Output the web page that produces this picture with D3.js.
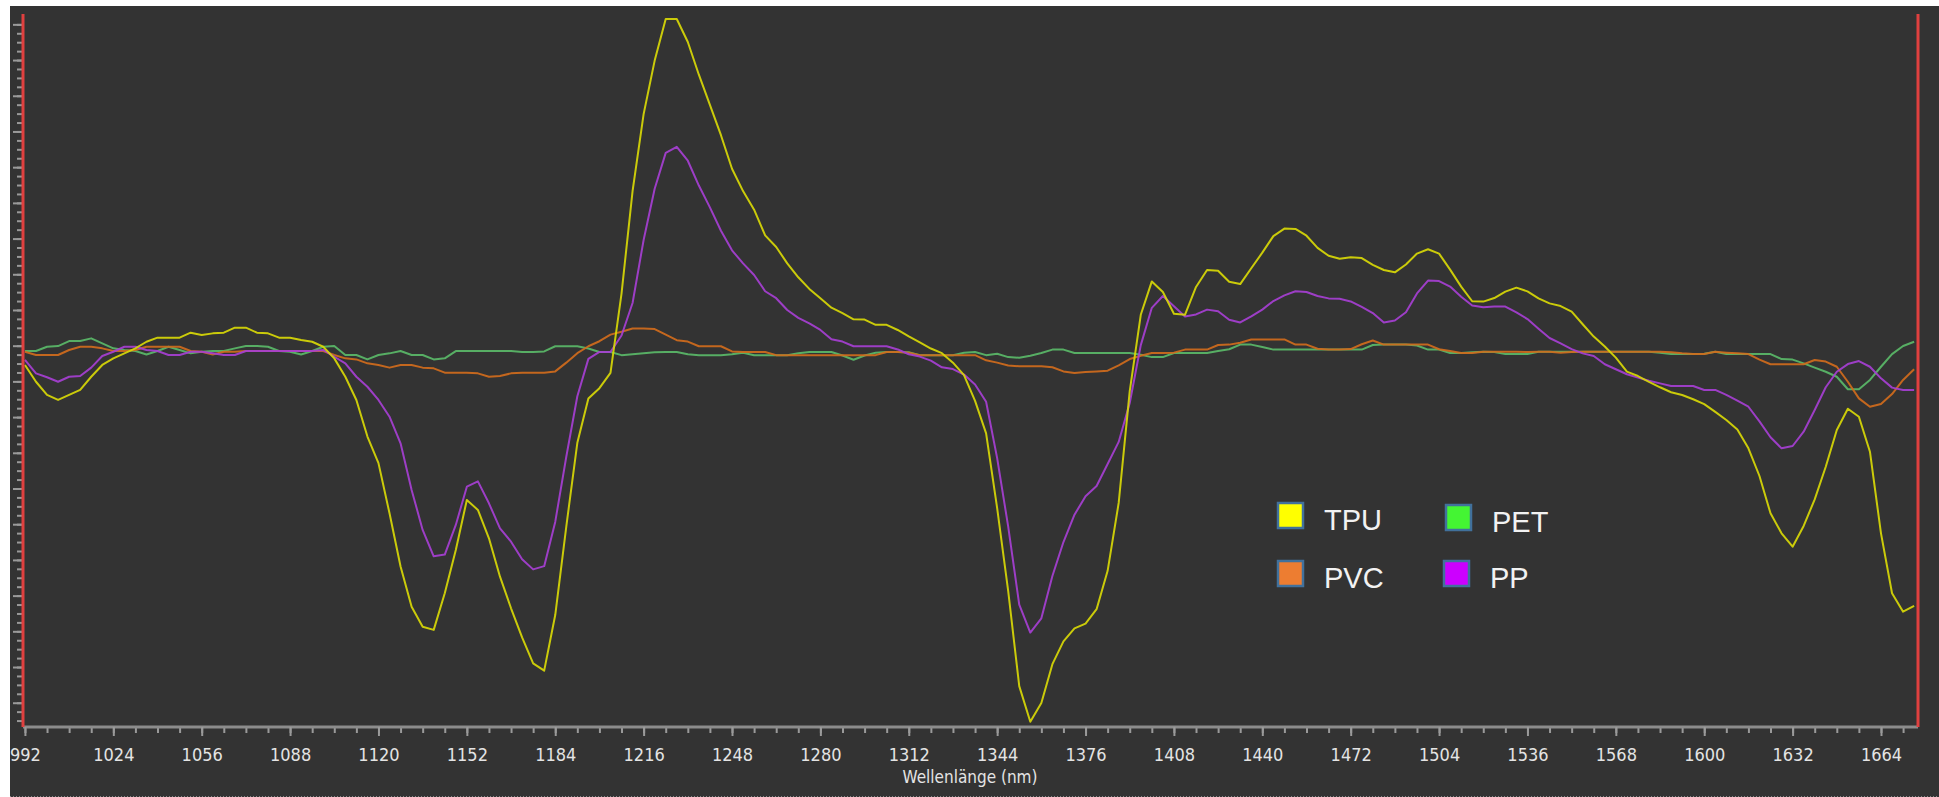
<!DOCTYPE html>
<html>
<head>
<meta charset="utf-8">
<script src="https://cdn.jsdelivr.net/npm/d3@7"></script>
<style>
  body { margin: 0; background: #ffffff; }
  #viz { width: 1939px; height: 797px; }
</style>
</head>
<body>
<div id="viz"></div>
<script>
// wavelength grid (nm)
var wavelengths = [
  992, 996, 1000, 1004, 1008, 1012, 1016, 1020, 1024, 1028, 1032, 1036, 1040, 1044, 1048,
  1052, 1056, 1060, 1064, 1068, 1072, 1076, 1080, 1084, 1088, 1092, 1096, 1100, 1104, 1108,
  1112, 1116, 1120, 1124, 1128, 1132, 1136, 1140, 1144, 1148, 1152, 1156, 1160, 1164, 1168,
  1172, 1176, 1180, 1184, 1188, 1192, 1196, 1200, 1204, 1208, 1212, 1216, 1220, 1224, 1228,
  1232, 1236, 1240, 1244, 1248, 1252, 1256, 1260, 1264, 1268, 1272, 1276, 1280, 1284, 1288,
  1292, 1296, 1300, 1304, 1308, 1312, 1316, 1320, 1324, 1328, 1332, 1336, 1340, 1344,
  1348, 1352, 1356, 1360, 1364, 1368, 1372, 1376, 1380, 1384, 1388, 1392, 1396, 1400, 1404,
  1408, 1412, 1416, 1420, 1424, 1428, 1432, 1436, 1440, 1444, 1448, 1452, 1456, 1460, 1464,
  1468, 1472, 1476, 1480, 1484, 1488, 1492, 1496, 1500, 1504, 1508, 1512, 1516,
  1520, 1524, 1528, 1532, 1536, 1540, 1544, 1548, 1552, 1556, 1560, 1564, 1568, 1572, 1576,
  1580, 1584, 1588, 1592, 1596, 1600, 1604, 1608, 1612, 1616, 1620, 1624, 1628, 1632, 1636,
  1640, 1644, 1648, 1652, 1656, 1660, 1664, 1668, 1672, 1676
];

var tpu = [
  -7.8, -17.2, -24.6, -27.4, -24.6, -21.8, -14.4, -7.8, -4.1, -1.3, 1.5, 5.2, 7.5, 7.5, 7.5,
  10.3, 9.0, 9.9, 10.3, 13.1, 13.1, 10.3, 9.9, 7.5, 7.5, 6.2, 5.2, 2.4, -4.1, -14.4,
  -27.4, -47.9, -62.8, -90.9, -120.7, -143.2, -154.4, -156.2, -135.7, -111.4, -83.4, -89.0, -104.9, -126.4, -144.1,
  -160.4, -175, -179, -147.9, -98.3, -51.4, -26.6, -20.8, -12.2, 32.2, 89.6, 132.7, 162.7, 186, 186,
  173.1, 154.8, 137.9, 120.9, 102.1, 89.6, 79.2, 64.8, 58.3, 49.1, 41.3, 34.8, 29.6, 24.3, 21.2,
  17.8, 17.6, 14.7, 14.7, 11.8, 8.2, 4.8, 1.4, -1.2, -6.5, -13.5, -27.9, -46.1, -88,
  -134.5, -187.7, -207.7, -197.2, -175.4, -162.6, -155.4, -152.7, -144.6, -123.1, -85.1, -22.4, 20.3, 39, 33.1,
  20.9, 20.3, 35.9, 45.4, 45.0, 38.8, 37.5, 46.4, 55.1, 64.4, 68.6, 68.4, 64.6, 57.8, 53.4,
  51.7, 52.5, 52.1, 48.3, 45.4, 44.1, 48.5, 54.6, 57.0, 54.6, 45.6, 36.1, 27.9,
  27.7, 29.7, 33.3, 35.5, 33.4, 29.5, 26.7, 25.2, 22.1, 15.0, 8.1, 2.5, -3.7, -11.5, -14.0,
  -17.3, -20.3, -23.1, -24.6, -27.0, -29.7, -34.1, -38.6, -43.9, -54.5, -70.0, -90.9, -102.1, -109.6, -98.0,
  -83.1, -64.8, -44.2, -32.3, -36.8, -56.4, -102.1, -135.7, -146.0, -142.8
];

var pvc = [
  -0.4, -2.2, -2.2, -2.2, 0.6, 2.4, 2.4, 1.5, 0, 0, 0.6, 2.4, 2.4, 2.4, 2.4,
  0, -0.4, -1.9, -0.4, -0.4, 0, 0, 0, 0, 0, 0, 0, 0, -2.2, -4.1,
  -4.7, -6.9, -7.8, -9.3, -7.8, -7.8, -9.3, -9.7, -12.1, -12.1, -12.1, -12.5, -14.4, -14.0, -12.5,
  -12.2, -12.2, -12.2, -11.4, -6.5, -1.2, 2.7, 5.5, 9.2, 10.8, 12.6, 12.6, 12.3, 9.2, 6.1,
  5.3, 2.7, 2.7, 2.7, -0.2, -0.5, -0.5, -0.5, -2.3, -2.3, -2.3, -2.3, -2.3, -2.3, -2.3,
  -2.3, -2.3, -2.3, -0.5, -0.5, -1.0, -2.3, -2.3, -2.3, -2.3, -2.3, -2.3, -5.2, -6.5,
  -8.1, -8.5, -8.5, -8.5, -9.1, -11.4, -12.3, -11.8, -11.4, -11.0, -8.0, -4.5, -2.6, -1.1, -1.1,
  -0.9, 0.8, 0.8, 0.8, 3.4, 3.6, 4.6, 6.5, 6.5, 6.5, 6.5, 3.6, 3.6, 1.3, 0.8,
  0.8, 1.1, 3.8, 5.9, 3.6, 3.6, 3.6, 3.6, 3.6, 1.0, 0.0, -1.1, -1.1,
  -0.4, -0.4, -0.4, -0.4, -0.5, -0.4, -0.4, -0.9, -0.5, -0.4, -0.4, -0.4, -0.4, -0.4, -0.4,
  -0.4, -0.4, -0.7, -1.3, -1.7, -1.7, -0.4, -0.9, -1.3, -1.7, -4.8, -7.4, -7.4, -7.4, -7.4,
  -5.0, -5.9, -8.8, -17.2, -26.5, -31.2, -29.7, -24.1, -16.2, -10.2
];

var pet = [
  0, 0, 2.4, 2.8, 5.6, 5.6, 7.1, 4.3, 1.5, 0.6, 0, -1.9, 0, 2.4, 0.6,
  -1.3, -0.4, 0, 0, 1.5, 2.8, 2.8, 2.4, 0, -0.4, -1.9, 0, 2.4, 2.8, -2.2,
  -2.2, -4.7, -2.2, -1.3, 0, -2.2, -2.2, -4.7, -4.1, 0, 0, 0, 0, 0, 0,
  -0.5, -0.5, -0.2, 2.7, 2.7, 2.7, 1.4, -0.5, -0.5, -2.3, -1.8, -1.2, -0.7, -0.5, -0.5,
  -1.8, -2.3, -2.3, -2.3, -1.8, -1.0, -2.3, -2.3, -2.3, -2.3, -1.2, -0.5, -0.5, -0.5, -2.5,
  -4.9, -2.5, -1.0, -0.5, -0.5, -0.7, -2.3, -2.3, -2.3, -2.3, -1.0, -0.5, -2.3, -1.5,
  -3.4, -3.8, -2.6, -1.1, 0.8, 0.8, -1.1, -1.1, -1.1, -1.1, -1.1, -1.1, -2.1, -3.4, -3.4,
  -1.1, -1.1, -1.1, -1.1, 0.0, 1.0, 3.6, 3.6, 2.3, 0.8, 0.8, 0.8, 0.8, 0.8, 0.8,
  0.8, 0.8, 0.8, 3.4, 3.6, 3.6, 3.6, 3.1, 0.8, 0.8, -1.1, -1.1, -0.7,
  -0.4, -0.5, -1.7, -1.7, -1.7, -0.4, -0.4, -0.4, -0.4, -0.4, -0.4, -0.4, -0.4, -0.4, -0.4,
  -0.4, -0.9, -1.7, -1.7, -1.7, -1.5, -0.4, -1.7, -1.7, -1.7, -1.7, -1.7, -4.5, -4.8, -6.9,
  -9.3, -11.6, -14.4, -21.4, -21.4, -16.2, -8.8, -1.7, 2.8, 5.2
];

var pp = [
  -5.0, -12.5, -14.7, -17.2, -14.4, -14.0, -9.3, -2.8, -0.4, 2.4, 2.4, 0.6, 0, -2.2, -2.2,
  -0.4, -0.4, -1.3, -2.2, -2.2, 0, 0, 0, 0, 0, 0, 0, 0.6, -3.2, -6.9,
  -14.4, -20.0, -27.4, -36.8, -51.7, -77.8, -100.2, -115, -114, -97.4, -76, -73, -85.3, -99.3, -106.8,
  -116.6, -122.3, -120.5, -95.7, -59.2, -25.3, -4.4, -0.5, -0.5, 8.7, 26.9, 62.2, 90.9, 111, 114.4,
  106.6, 92.7, 80.5, 67.4, 56.4, 49.1, 42.6, 33.5, 29.6, 23.0, 18.6, 15.5, 11.8, 6.6, 5.3,
  2.7, 2.7, 2.7, 2.7, 0.9, -1.8, -3.1, -5.4, -9.1, -10.1, -13.2, -18.7, -28.4, -60,
  -98.4, -142.1, -157.7, -149.7, -126.0, -107.0, -91.7, -81.3, -75.6, -63.3, -50.9, -29.1, 3.3, 24.2, 30.8,
  25.1, 19.4, 20.5, 23.2, 22.3, 17.5, 16.0, 19.4, 23.2, 28.0, 31.2, 33.5, 33.1, 30.8, 29.5,
  29.3, 27.8, 24.7, 21.3, 16.0, 17.1, 21.7, 32.3, 39.5, 39.2, 36.1, 30.4, 25.5,
  24.5, 24.9, 24.9, 21.7, 17.9, 12.5, 7.3, 4.3, 1.1, -1.3, -2.8, -7.4, -10.2, -13.0, -14.9,
  -16.6, -18.1, -19.6, -19.6, -19.6, -21.8, -21.8, -24.6, -27.8, -31.2, -39.4, -48.3, -54.5, -53.2, -45.2,
  -33.0, -20.3, -11.6, -7.3, -5.6, -8.8, -15.3, -20.5, -21.8, -21.8
];

var xMajorTicks = [992, 1024, 1056, 1088, 1120, 1152, 1184, 1216, 1248, 1280, 1312, 1344,
  1376, 1408, 1440, 1472, 1504, 1536, 1568, 1600, 1632, 1664];
var legendNames = ["TPU", "PET", "PVC", "PP"];
var legendColors = ["#ffff00", "#44f533", "#ed7d31", "#cc00ff"];

var W = 1939, H = 797;

var svg = d3.select("#viz")
    .append("svg")
    .attr("width", W)
    .attr("height", H);

// dark panel
svg.append("rect")
    .attr("x", 10).attr("y", 6)
    .attr("width", W - 10).attr("height", H - 6)
    .attr("fill", "#333333");

svg.append("line")
    .attr("x1", 10).attr("x2", W)
    .attr("y1", 796.5).attr("y2", 796.5)
    .attr("stroke", "#8a8a8a")
    .attr("stroke-dasharray", "1,2");

var x = d3.scaleLinear().domain([991.3, 1677.4]).range([23, 1918]);
var y = d3.scaleLinear().domain([-210.6, 188.8]).range([727, 14]);

// y ticks (no labels)
var yMinor = d3.range(183, -211, -5);
var yMajor = yMinor.filter(function(d, i) { return i % 4 === 0; });

var gyMinor = svg.append("g")
    .attr("transform", "translate(22,0)")
    .call(d3.axisLeft(y).tickValues(yMinor).tickSize(5).tickFormat(""));
var gyMajor = svg.append("g")
    .attr("transform", "translate(22,0)")
    .call(d3.axisLeft(y).tickValues(yMajor).tickSize(9).tickFormat(""));
[gyMinor, gyMajor].forEach(function(g) {
  g.select(".domain").remove();
  g.selectAll("line").attr("stroke", "#9a9a9a").attr("stroke-width", 2);
});

// x axis
var gxMinor = svg.append("g")
    .attr("transform", "translate(0,727)")
    .call(d3.axisBottom(x).tickValues(d3.range(992, 1677, 8)).tickSize(6).tickFormat(""));
gxMinor.select(".domain").remove();
gxMinor.selectAll("line").attr("stroke", "#9a9a9a").attr("stroke-width", 2);

var gx = svg.append("g")
    .attr("transform", "translate(0,727)")
    .call(d3.axisBottom(x).tickValues(xMajorTicks).tickSize(9).tickPadding(12).tickFormat(d3.format("d")));
gx.select(".domain")
    .attr("d", "M23,0H1918")
    .attr("stroke", "#8c8c8c")
    .attr("stroke-width", 3);
gx.selectAll("line").attr("stroke", "#9a9a9a").attr("stroke-width", 2);
gx.selectAll("text")
    .attr("fill", "#e4e4e4")
    .style("font-family", "'DejaVu Sans Condensed', 'DejaVu Sans', sans-serif")
    .style("font-size", "18px");

svg.append("text")
    .attr("x", 970)
    .attr("y", 783)
    .attr("text-anchor", "middle")
    .attr("fill", "#e4e4e4")
    .style("font-family", "'DejaVu Sans Condensed', 'DejaVu Sans', sans-serif")
    .style("font-size", "17px")
    .text("Wellenlänge (nm)");

// spectra
var line = d3.line()
    .x(function(d, i) { return x(wavelengths[i]); })
    .y(function(d) { return y(d); });

var series = [
  { name: "PET", values: pet, color: "#5ab868" },
  { name: "PVC", values: pvc, color: "#d06b1c" },
  { name: "PP",  values: pp,  color: "#a63fd2" },
  { name: "TPU", values: tpu, color: "#d8d806" }
];

svg.append("g").selectAll("path")
    .data(series)
    .enter().append("path")
    .attr("d", function(s) { return line(s.values); })
    .attr("fill", "none")
    .attr("stroke", function(s) { return s.color; })
    .attr("stroke-width", 2)
    .attr("stroke-linejoin", "round")
    .attr("opacity", 0.92);

// red boundary markers
svg.append("line")
    .attr("x1", x(991.3)).attr("x2", x(991.3))
    .attr("y1", 14).attr("y2", 727)
    .attr("stroke", "#e0403f").attr("stroke-width", 3);
svg.append("line")
    .attr("x1", x(1677.4)).attr("x2", x(1677.4))
    .attr("y1", 14).attr("y2", 727)
    .attr("stroke", "#e0403f").attr("stroke-width", 3);

// legend
var legendPos = [[1278, 503], [1446, 505], [1278, 561], [1444, 561]];
var lg = svg.append("g");
legendNames.forEach(function(n, i) {
  var p = legendPos[i];
  lg.append("rect")
      .attr("x", p[0]).attr("y", p[1])
      .attr("width", 25).attr("height", 25)
      .attr("fill", legendColors[i])
      .attr("stroke", "#41719c")
      .attr("stroke-width", 2.5);
  lg.append("text")
      .attr("x", p[0] + 46)
      .attr("y", p[1] + 27)
      .attr("fill", "#f2f2f2")
      .style("font-family", "'Liberation Sans', Arial, sans-serif")
      .style("font-size", "29px")
      .text(n);
});
</script>
</body>
</html>
